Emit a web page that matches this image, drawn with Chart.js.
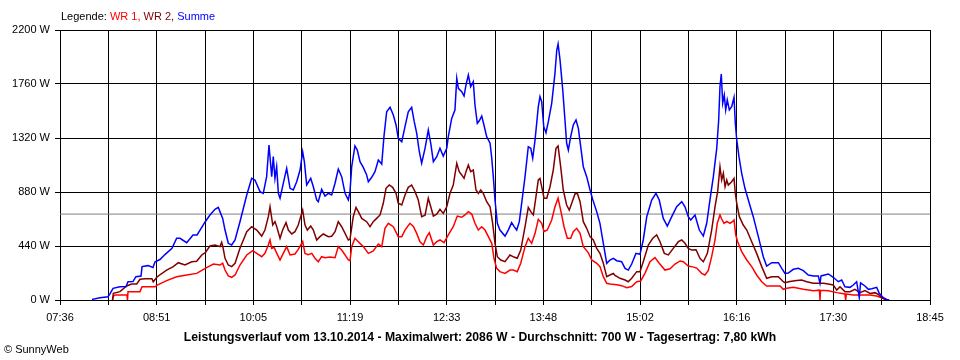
<!DOCTYPE html>
<html><head><meta charset="utf-8">
<script src="https://cdn.jsdelivr.net/npm/chart.js@4/dist/chart.umd.min.js"></script>
<style>
html,body{margin:0;padding:0;background:#fff;}
#wrap{position:relative;width:960px;height:360px;overflow:hidden;font-family:"Liberation Sans",Arial,sans-serif;font-size:11px;color:#000;}
#c{position:absolute;left:0;top:0;}
#legend{position:absolute;left:61px;top:10px;white-space:nowrap;line-height:13px;}
#title{position:absolute;left:0;width:960px;top:330px;text-align:center;font-weight:bold;font-size:12.2px;white-space:nowrap;line-height:14px;}
#copy{position:absolute;left:4px;top:343px;white-space:nowrap;line-height:13px;}
</style></head>
<body>
<div id="wrap">
<canvas id="c" width="960" height="360"></canvas>
<div id="legend">Legende: <span style="color:#ff0000">WR 1, </span><span style="color:#800000">WR 2, </span><span style="color:#0000ff">Summe</span></div>
<div id="title">Leistungsverlauf vom 13.10.2014 - Maximalwert: 2086 W - Durchschnitt: 700 W - Tagesertrag: 7,80 kWh</div>
<div id="copy">© SunnyWeb</div>
</div>
<script>
// time in minutes since midnight, power in W
const tickLabels = ['07:36','08:51','10:05','11:19','12:33','13:48','15:02','16:16','17:30','18:45'];
const axisMin = 456, axisMax = 1125;
const avgW = 700;

const sumTimes = [480.6,486.8,492.9,494.4,496.8,502.1,506.8,508.3,512.1,514.4,
518.3,519.1,523.7,527.5,529.1,532.9,536.7,542.1,545.7,548.3,
553.4,558.3,561.4,563.7,567.7,571.3,575.2,577.7,579.0,581.1,
582.9,585.4,588.0,590.6,594.4,599.6,603.4,605.9,609.8,612.3,
614.9,616.7,618.8,620.0,621.3,622.6,623.9,625.2,627.7,630.3,
632.9,635.4,638.0,640.6,642.6,643.9,645.7,648.8,650.8,653.4,
654.6,657.2,659.8,662.3,664.9,667.5,670.0,672.6,675.2,677.7,
679.0,680.3,682.8,684.6,686.7,689.2,691.8,693.1,695.7,698.2,
700.8,703.4,705.1,707.2,709.8,712.3,714.4,716.1,718.8,721.3,
723.8,726.4,728.4,730.3,732.3,734.1,736.7,739.2,741.1,743.1,
745.7,748.2,750.7,753.4,754.6,757.2,759.7,761.1,762.3,764.9,
766.7,768.2,770.0,771.8,773.8,775.1,776.9,778.4,780.3,782.0,
784.1,786.7,788.0,789.2,790.5,792.3,794.3,798.2,800.7,803.3,
805.1,807.2,809.2,811.0,813.6,816.1,818.0,819.5,821.3,823.8,
825.1,826.4,828.0,829.7,831.5,834.1,836.6,838.0,839.0,840.5,
842.6,844.3,845.6,846.9,848.7,850.7,852.8,854.6,856.4,858.4,
861.0,863.6,865.6,868.7,871.2,873.8,876.4,878.9,881.5,884.1,
887.9,890.5,893.0,895.6,898.9,902.0,904.5,907.2,911.0,914.3,
916.8,919.9,923.0,926.4,930.2,934.1,936.6,939.1,941.0,944.3,
947.6,950.7,953.3,955.8,958.4,961.0,962.5,963.5,964.5,965.6,
966.8,967.9,969.1,970.7,972.5,974.3,975.3,976.4,978.1,980.2,
982.7,985.3,989.1,993.0,996.8,999.4,1003.3,1008.4,1011.0,1013.5,
1016.0,1019.9,1023.7,1027.6,1031.4,1035.3,1039.1,1040.4,1041.2,1046.8,
1050.6,1054.5,1057.1,1059.6,1063.5,1066.0,1068.6,1070.6,1071.6,1075.0,
1077.6,1080.2,1084.0,1086.0,1089.1,1091.7,1093.7];
const sumW = [5,18,27,50,95,108,110,149,150,190,
195,272,280,265,312,330,370,421,503,503,
467,530,530,570,638,693,739,755,720,665,
570,462,448,489,638,856,991,978,883,869,
1005,1263,1005,1168,991,1086,869,829,951,1073,
910,896,964,1059,1208,1127,937,991,923,815,
801,902,847,869,856,951,1067,1005,869,815,
883,1086,1255,1222,1127,1081,1019,964,1000,1046,
1141,1108,1331,1534,1570,1507,1426,1317,1290,1412,
1534,1570,1453,1358,1208,1114,1236,1385,1277,1127,
1168,1236,1173,1236,1331,1480,1548,1806,1725,1698,
1662,1752,1833,1738,1779,1589,1440,1460,1499,1426,
1331,1277,1155,1005,815,625,570,521,570,630,
600,570,638,788,1005,1249,1236,1155,1304,1575,
1657,1616,1412,1363,1453,1603,1847,2037,2086,1956,
1711,1467,1277,1222,1331,1426,1467,1399,1249,1086,
1005,896,820,720,625,462,299,326,340,320,
312,258,244,293,380,372,489,679,815,869,
815,665,603,679,760,801,760,679,652,693,
570,521,625,815,1005,1236,1467,1738,1841,1603,
1670,1548,1630,1548,1575,1652,1440,1304,1168,1032,
910,815,679,516,353,277,304,304,258,217,
220,250,258,239,204,196,196,136,196,212,
185,149,163,108,103,122,149,20,140,114,
87,92,103,54,19,5,0];

const wr2Times = [496.4,497.0,502.1,507.3,511.1,515.0,517.5,521.4,526.7,527.7,
530.8,538.0,543.1,547.0,552.1,557.3,561.1,565.0,567.7,571.3,
575.2,579.0,580.3,581.3,582.9,585.4,588.0,590.6,594.4,599.6,
603.4,607.3,611.1,613.6,616.2,617.5,619.6,621.3,622.6,625.2,
627.2,629.8,631.6,634.2,636.7,639.2,642.6,644.4,646.2,648.8,
650.8,653.4,655.9,658.5,662.3,664.9,667.5,670.0,672.6,675.2,
677.7,679.0,681.5,683.6,685.4,688.0,691.8,694.4,696.9,699.5,
702.1,704.6,706.7,709.2,711.8,714.4,716.1,718.8,721.3,723.8,
726.4,729.0,731.5,734.1,736.7,739.2,741.1,743.1,745.7,748.2,
750.7,753.4,755.9,758.4,761.1,763.0,764.9,766.7,768.2,770.0,
771.8,773.8,775.9,777.7,779.5,781.5,784.1,786.7,788.7,790.5,
792.3,794.9,798.2,802.0,805.1,807.6,810.3,813.6,816.1,818.0,
820.0,822.0,823.8,825.1,826.4,828.2,830.3,832.8,835.3,837.4,
839.0,841.0,843.0,845.6,847.6,849.5,852.0,853.8,855.9,858.4,
861.0,863.6,866.1,868.7,871.2,873.8,876.4,878.9,881.5,882.8,
886.6,890.5,893.0,895.6,899.5,902.0,904.5,908.4,911.8,914.8,
917.4,920.7,923.8,927.6,931.5,934.1,936.6,939.1,941.8,945.1,
948.1,950.7,953.8,957.1,959.7,961.7,963.5,964.8,966.1,967.4,
968.7,969.9,972.5,974.3,975.3,976.4,978.4,981.4,984.1,987.9,
991.7,995.6,999.4,1003.3,1008.4,1012.2,1013.5,1017.3,1022.5,1026.3,
1030.2,1035.3,1043.0,1046.8,1050.6,1053.3,1055.8,1059.6,1063.5,1067.3,
1071.2,1075.0,1078.9,1082.7,1085.3,1087.9,1090.4,1092.0];
const wr2W = [0,55,68,114,130,130,169,174,174,149,
190,244,272,304,285,312,315,367,386,440,
448,435,470,430,340,285,272,299,421,557,
597,570,521,570,679,760,611,638,600,503,
570,630,570,538,557,611,733,611,570,603,
570,489,516,538,516,520,557,638,597,543,
489,495,679,755,720,665,638,597,638,665,
693,788,910,937,918,869,788,774,856,918,
937,883,815,679,690,829,760,684,700,739,
706,760,869,937,1114,1046,1019,991,1046,1100,
1046,1059,896,869,896,869,801,760,625,462,
353,326,312,367,350,340,407,597,755,720,
693,842,978,991,923,829,829,923,1059,1236,
1255,1086,896,774,733,788,864,870,801,638,
584,516,489,421,380,299,190,204,217,200,
177,163,149,177,231,231,312,448,503,530,
475,380,367,421,475,489,462,421,407,410,
340,312,380,570,760,883,1086,978,1032,923,
978,937,964,991,869,788,679,611,570,475,
380,272,177,190,190,149,141,150,158,163,
149,136,136,130,122,81,108,68,68,87,
60,76,54,60,45,19,5,0];

const wr1Times = [496.4,497.0,498.3,507.5,507.9,508.3,517.5,519.1,529.1,530.8,
538.0,545.7,553.4,561.1,567.7,573.9,579.0,581.1,582.9,585.4,
588.0,590.6,594.4,599.6,604.2,607.3,611.1,613.6,616.2,617.5,
618.8,620.6,622.1,625.2,627.7,630.3,632.9,636.7,639.2,642.6,
644.4,646.9,649.6,652.1,654.6,657.2,659.8,663.6,667.5,670.0,
672.6,675.2,677.7,679.0,680.3,682.8,685.4,689.2,693.1,696.9,
700.8,703.4,705.9,708.5,712.3,716.1,718.8,721.3,725.1,727.7,
730.3,732.8,735.4,738.0,740.0,743.1,745.7,748.2,751.3,754.6,
758.4,761.5,764.9,767.4,770.0,772.6,775.1,777.7,780.3,782.8,
785.4,788.0,789.7,791.8,794.3,798.2,802.0,804.6,807.6,810.3,
813.6,816.1,818.7,821.3,823.8,826.4,828.2,830.7,834.1,836.6,
839.0,841.0,843.6,846.1,848.7,850.7,853.3,855.9,858.4,862.2,
864.9,868.7,871.2,873.8,876.4,878.9,884.1,887.9,891.8,895.6,
899.5,902.5,905.8,909.7,913.5,916.8,921.2,925.1,928.9,932.8,
935.3,939.1,942.5,945.6,949.4,952.0,954.5,957.1,959.7,961.4,
963.5,964.8,966.6,968.7,971.2,973.3,974.3,975.6,977.1,980.2,
984.1,987.9,991.7,995.6,999.4,1009.7,1012.2,1014.8,1019.9,1027.6,
1035.3,1040.0,1040.4,1040.8,1046.8,1053.3,1059.6,1060.1,1060.7,1066.0,
1072.5,1078.9,1084.0,1087.9,1090.4,1092.0];
const wr1W = [0,30,41,41,0,68,68,108,108,122,
158,190,204,217,258,293,285,300,244,196,
185,204,285,367,402,380,353,380,448,489,
421,430,394,326,380,435,367,375,413,475,
380,370,380,340,312,353,345,350,345,435,
407,367,326,320,435,503,475,435,380,400,
456,435,584,625,597,516,516,570,625,600,
543,475,448,516,548,448,475,489,467,530,
597,684,674,693,720,700,625,570,597,570,
516,462,340,258,231,217,244,244,231,299,
435,503,462,543,657,625,557,570,652,760,
829,733,597,503,503,557,584,543,435,386,
326,299,272,190,136,130,125,117,100,110,
149,155,217,312,345,299,244,255,293,318,
312,277,270,260,217,204,240,353,489,625,
693,660,625,640,625,640,652,530,475,394,
326,272,204,149,114,114,87,95,103,87,
76,80,0,80,76,60,49,0,49,41,
41,41,33,19,5,0];

const toPoints = (ts, ws) => ts.map((t, i) => ({x: t, y: ws[i]}));
const tickVals = tickLabels.concat(tickLabels.slice(1)).map((_, i) => axisMin + i * (axisMax - axisMin) / 18);

Chart.defaults.font.family = '"Liberation Sans", Arial, sans-serif';
Chart.defaults.font.size = 11;
Chart.defaults.color = '#000';

new Chart(document.getElementById('c'), {
  type: 'line',
  data: {
    datasets: [
      {label: 'Summe', data: toPoints(sumTimes, sumW), borderColor: '#0000ff', order: 1},
      {label: 'WR 2', data: toPoints(wr2Times, wr2W), borderColor: '#800000', order: 2},
      {label: 'WR 1', data: toPoints(wr1Times, wr1W), borderColor: '#ff0000', order: 3},
      {label: 'Durchschnitt', data: [{x: axisMin, y: avgW}, {x: axisMax, y: avgW}], borderColor: '#808080', borderWidth: 1, order: 4}
    ]
  },
  options: {
    responsive: false,
    animation: false,
    devicePixelRatio: 1,
    layout: {padding: {top: 30, right: 30, left: 0, bottom: 0}},
    elements: {point: {radius: 0}, line: {borderWidth: 1.5, tension: 0, fill: false}},
    plugins: {legend: {display: false}, tooltip: {enabled: false}, title: {display: false}},
    scales: {
      x: {
        type: 'linear', min: axisMin, max: axisMax,
        afterBuildTicks: ax => { ax.ticks = tickVals.map(v => ({value: v})); },
        afterFit: s => { s.height = 60; },
        ticks: {autoSkip: false, maxRotation: 0, padding: 6,
          callback: (v, i) => (i % 2 === 0 ? tickLabels[i / 2] : '')},
        grid: {color: '#000', lineWidth: 1, tickLength: 5},
        border: {color: '#000', width: 1}
      },
      y: {
        min: 0, max: 2200,
        afterFit: s => { s.width = 60; },
        ticks: {stepSize: 440, padding: 5, callback: v => v + ' W'},
        grid: {color: '#000', lineWidth: 1, tickLength: 5},
        border: {color: '#000', width: 1}
      }
    }
  }
});
</script>
</body></html>
